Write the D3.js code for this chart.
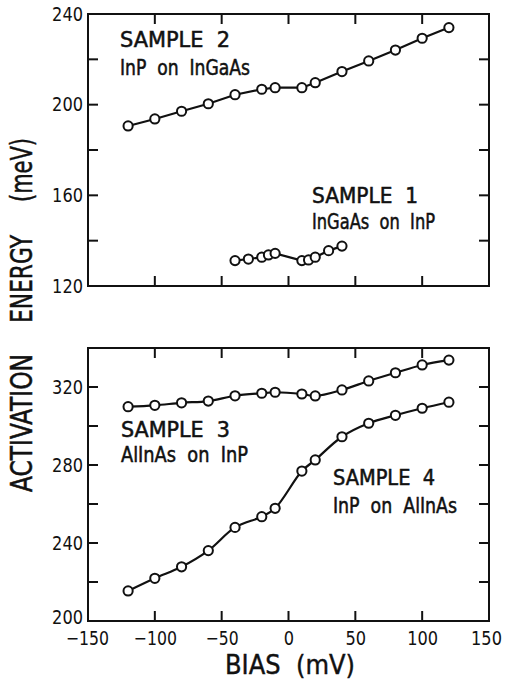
<!DOCTYPE html>
<html>
<head>
<meta charset="utf-8">
<script src="https://cdn.jsdelivr.net/npm/d3@7"></script>
<style>
  body { margin: 0; background: #fff; }
  svg text { font-family: "DejaVu Sans Condensed", "DejaVu Sans", sans-serif; font-stretch: condensed; fill: #111; white-space: pre; }
</style>
</head>
<body>
<div id="chart"></div>
<script>
// bias values (mV)
var bias = [-120, -100, -80, -60, -40, -20, -10, 10, 20, 40, 60, 80, 100, 120];
var bias1 = [-40, -30, -20, -15, -10, 10, 15, 20, 30, 40];

// activation energies (meV)
var sample1 = [131.2, 131.9, 132.7, 133.7, 134.4, 131.2, 131.5, 132.7, 135.6, 137.6];
var sample2 = [190.6, 193.7, 197.1, 200.4, 204.4, 206.8, 207.5, 207.5, 209.7, 214.6, 219.3, 224.1, 229.3, 234.0];
var sample3 = [309.9, 310.6, 311.9, 312.8, 315.5, 316.8, 317.3, 316.4, 315.4, 318.5, 323.1, 327.3, 331.3, 333.8];
var sample4 = [215.4, 221.9, 227.8, 236.1, 248.0, 253.5, 257.8, 276.9, 282.6, 294.5, 301.4, 305.5, 309.1, 312.2];

var xTicks = [-150, -100, -50, 0, 50, 100, 150];
var topTicks = [120, 140, 160, 180, 200, 220, 240];
var topLabels = [120, 160, 200, 240];
var botTicks = [200, 220, 240, 260, 280, 300, 320, 340];
var botLabels = [200, 240, 280, 320];

var width = 505, height = 680;

var svg = d3.select("#chart").append("svg")
    .attr("width", width)
    .attr("height", height);

var x = d3.scaleLinear().domain([-150, 150]).range([88, 489]);
var yTop = d3.scaleLinear().domain([120, 240]).range([286, 14]);
var yBot = d3.scaleLinear().domain([200, 340]).range([621, 348]);

// narrow digits like the original lettering
function squeeze(sel) {
  sel.attr("textLength", function() {
    var s = this.textContent;
    return s.length * 10.3 + (s.charAt(0) == "\u2212" ? 2 : 0);
  }).attr("lengthAdjust", "spacingAndGlyphs");
}

function panel(y, ticks, labels, showX) {
  var g = svg.append("g");
  var r = y.range();
  var inner = ticks.filter(function(t) { return t != y.domain()[0] && t != y.domain()[1]; });
  var xin = xTicks.slice(1, -1);

  // left axis with labels
  g.append("g")
    .attr("transform", "translate(" + x.range()[0] + ",0)")
    .call(d3.axisLeft(y).tickValues(ticks).tickSize(0).tickPadding(5)
      .tickFormat(function(d) { return labels.indexOf(d) >= 0 ? d : ""; }))
    .call(function(a) { a.select(".domain").remove(); })
    .selectAll("text").style("font-size", "20px")
    .attr("dy", function(d) { return d == 200 && showX ? "0.12em" : "0.3em"; })
    .call(squeeze);

  // inward ticks on four sides
  g.selectAll(".tl").data(inner).enter().append("line")
    .attr("x1", x.range()[0]).attr("x2", x.range()[0] + 10)
    .attr("y1", y).attr("y2", y);
  g.selectAll(".tr").data(inner).enter().append("line")
    .attr("x1", x.range()[1]).attr("x2", x.range()[1] - 10)
    .attr("y1", y).attr("y2", y);
  g.selectAll(".tt").data(xin).enter().append("line")
    .attr("x1", x).attr("x2", x)
    .attr("y1", r[1]).attr("y2", r[1] + 10);
  g.selectAll(".tb").data(xin).enter().append("line")
    .attr("x1", x).attr("x2", x)
    .attr("y1", r[0]).attr("y2", r[0] - 10);
  g.selectAll("line").attr("stroke", "#111").attr("stroke-width", 2);

  g.append("rect")
    .attr("x", x.range()[0]).attr("y", r[1])
    .attr("width", x.range()[1] - x.range()[0])
    .attr("height", r[0] - r[1])
    .attr("fill", "none").attr("stroke", "#111").attr("stroke-width", 2);

  if (showX) {
    g.append("g")
      .attr("transform", "translate(0," + r[0] + ")")
      .call(d3.axisBottom(x).tickValues(xTicks).tickSize(0).tickPadding(10))
      .call(function(a) { a.select(".domain").remove(); })
      .selectAll("text").style("font-size", "20px")
      .attr("dx", function(d) { return d == 150 ? "-3" : d == -150 ? "-1" : "0"; })
      .call(squeeze);
  }
  return g;
}

panel(yTop, topTicks, topLabels, false);
panel(yBot, botTicks, botLabels, true);

function series(xs, ys, y, curve) {
  var pts = xs.map(function(b, i) { return [b, ys[i]]; });
  var line = d3.line()
    .x(function(d) { return x(d[0]); })
    .y(function(d) { return y(d[1]); })
    .curve(curve);
  svg.append("path").datum(pts)
    .attr("d", line)
    .attr("fill", "none").attr("stroke", "#111").attr("stroke-width", 2.2);
  svg.append("g").selectAll("circle").data(pts).enter().append("circle")
    .attr("cx", function(d) { return x(d[0]); })
    .attr("cy", function(d) { return y(d[1]); })
    .attr("r", 4.6)
    .attr("fill", "#fff").attr("stroke", "#111").attr("stroke-width", 2);
}

series(bias, sample2, yTop, d3.curveLinear);
series(bias1, sample1, yTop, d3.curveLinear);
series(bias, sample3, yBot, d3.curveCatmullRom);
series(bias, sample4, yBot, d3.curveCatmullRom);

// panel labels
var notes = [
  {t: "SAMPLE  2", x: 120, y: 47, w: 110},
  {t: "InP  on  InGaAs", x: 120, y: 75, w: 130},
  {t: "SAMPLE  1", x: 312, y: 203, w: 106},
  {t: "InGaAs  on  InP", x: 312, y: 229, w: 123},
  {t: "SAMPLE  3", x: 121, y: 437, w: 109},
  {t: "AlInAs  on  InP", x: 121, y: 462, w: 127},
  {t: "SAMPLE  4", x: 333, y: 485, w: 102},
  {t: "InP  on  AlInAs", x: 333, y: 513, w: 124}
];
svg.selectAll(".note").data(notes).enter().append("text")
  .attr("x", function(d) { return d.x; })
  .attr("y", function(d) { return d.y; })
  .attr("textLength", function(d) { return d.w; })
  .attr("lengthAdjust", "spacingAndGlyphs")
  .style("font-size", "21px")
  .style("stroke", "#111").style("stroke-width", 0.5)
  .text(function(d) { return d.t; });

// axis titles
svg.append("text")
  .attr("x", 290).attr("y", 674)
  .attr("text-anchor", "middle")
  .attr("textLength", 130)
  .attr("lengthAdjust", "spacingAndGlyphs")
  .style("font-size", "27px")
  .style("stroke", "#111").style("stroke-width", 0.4)
  .text("BIAS  (mV)");

var ytitle = [
  {t: "ACTIVATION", c: 423, w: 138},
  {t: "ENERGY", c: 279, w: 88},
  {t: "(meV)", c: 170, w: 64}
];
svg.selectAll(".yt").data(ytitle).enter().append("text")
  .attr("transform", function(d) { return "translate(32," + d.c + ") rotate(-90)"; })
  .attr("text-anchor", "middle")
  .attr("textLength", function(d) { return d.w; })
  .attr("lengthAdjust", "spacingAndGlyphs")
  .style("font-size", "30px")
  .style("stroke", "#111").style("stroke-width", 0.5)
  .text(function(d) { return d.t; });
</script>
</body>
</html>
